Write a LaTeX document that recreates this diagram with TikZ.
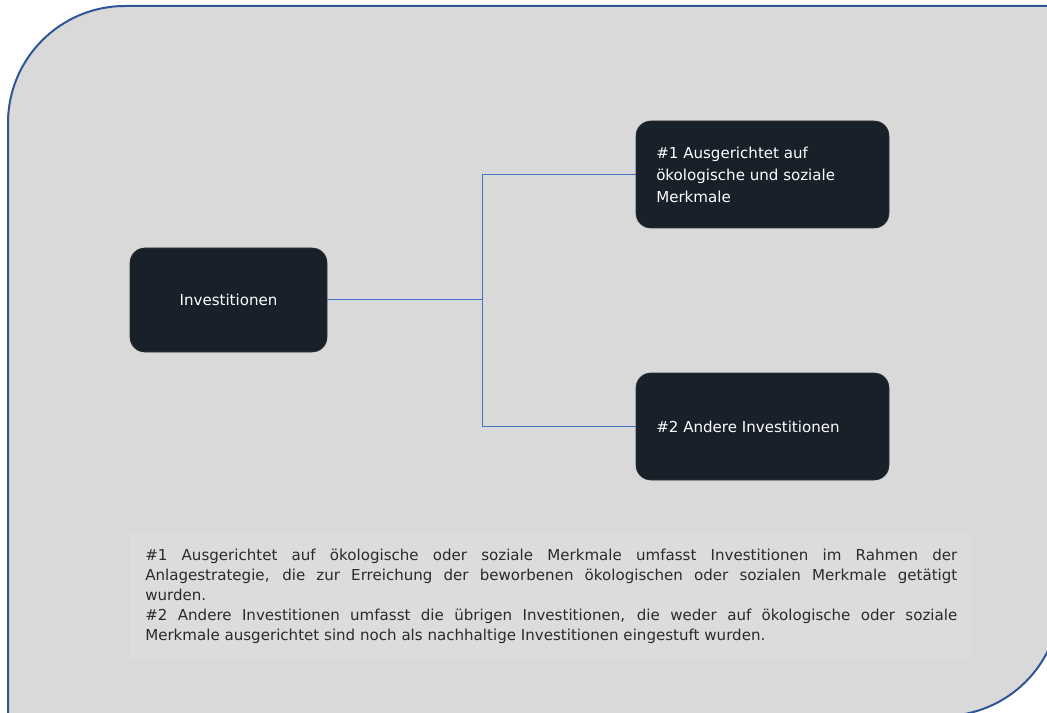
\documentclass[tikz,border=0pt]{standalone}
\usepackage{fontspec}
\setmainfont{DejaVu Sans}
\usepackage{tikz}

\definecolor{panelfill}{HTML}{D9D9D9}
\definecolor{panelline}{HTML}{2F5597}
\definecolor{boxfill}{HTML}{18202A}
\definecolor{linkblue}{HTML}{4472C4}
\definecolor{notefill}{HTML}{DCDCDC}
\definecolor{notetext}{HTML}{2B2B2B}

\tikzset{
  darkbox/.style={draw=black!80, fill=boxfill, rounded corners=11pt, text=white,
    minimum width=189.75pt, minimum height=80.25pt, inner sep=0pt,
    font=\fontsize{11.3}{16.5}\selectfont},
  boxtext/.style={anchor=west, inner sep=0pt, text=white, align=left,
    font=\fontsize{11.3}{16.5}\selectfont},
  link/.style={draw=linkblue, line width=0.75pt}
}

\begin{document}
\begin{tikzpicture}[x=0.75pt,y=0.75pt,yscale=-1,xscale=1]
\useasboundingbox (0,0) rectangle (1047,713);
\clip (0,0) rectangle (1047,713);

%Shape: Panel
\draw [panelline, fill=panelfill, line width=1.5pt] (8,716) -- (8,123) .. controls (8,58.4) and (60.4,6) .. (125,6) -- (1060,6) -- (1060,599) .. controls (1060,663.6) and (1007.6,716) .. (943,716) -- cycle ;

% Boxes
\node [darkbox, minimum width=147.75pt, minimum height=78pt] (invest) at (228.5,300) {Investitionen};
\node [darkbox] (merkmale) at (762.5,174.5) {};
\node [darkbox] (andere) at (762.5,426.5) {};

% Box texts
\node [boxtext] (merkmaletxt) at (656,175) {\#1 Ausgerichtet auf\\ökologische und soziale\\Merkmale};
\node [boxtext] (anderetxt) at (656,426.5) {\#2 Andere Investitionen};

% Connectors
\coordinate (split) at (482,300);
\draw [link] (invest.east) -- (split);
\draw [link] (split) |- (merkmale.west);
\draw [link] (split) |- (andere.west);

% Note
\node [anchor=north west, fill=notefill, text=notetext, minimum height=95.25pt, inner xsep=11.25pt, inner ysep=0pt,
  text width=609pt, align=justify, font=\fontsize{11.3}{15}\selectfont] (note) at (130,533)
  {\#1 Ausgerichtet auf ökologische oder soziale Merkmale umfasst Investitionen im Rahmen der\linebreak
   Anlagestrategie, die zur Erreichung der beworbenen ökologischen oder sozialen Merkmale getätigt\linebreak
   wurden.\par
   \#2 Andere Investitionen umfasst die übrigen Investitionen, die weder auf ökologische oder soziale\linebreak
   Merkmale ausgerichtet sind noch als nachhaltige Investitionen eingestuft wurden.};

\end{tikzpicture}
\end{document}
